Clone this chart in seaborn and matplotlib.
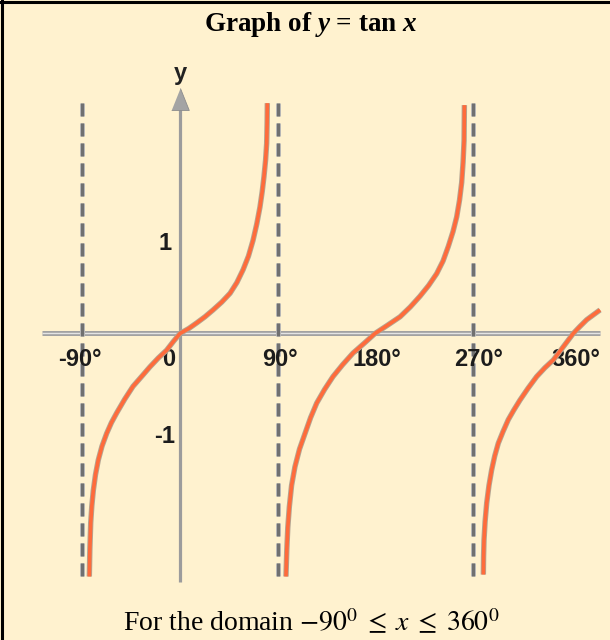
import matplotlib
matplotlib.use("Agg")
import matplotlib.pyplot as plt
from matplotlib.lines import Line2D
import pandas as pd
import seaborn as sns

# points (x in degrees)
branch1_x = [-83.7, -83.2, -82.4, -81.4, -80.0, -78.0, -75.4, -72.0, -67.7, -63.3,
             -58.4, -51.0, -43.4, -35.5, -27.7, -20.0, -12.3, -6.0, 0.0,
             8.0, 15.7, 23.0, 30.5, 38.5, 46.2, 52.5, 58.2, 63.2, 67.4, 70.9,
             73.8, 75.9, 77.5, 79.0, 80.0, 80.4, 80.6]
branch1_y = [-2.48, -2.20, -1.93, -1.76, -1.60, -1.44, -1.29, -1.15, -1.02, -0.91,
             -0.81, -0.67, -0.54, -0.44, -0.34, -0.25, -0.17, -0.08, 0.0,
             0.05, 0.11, 0.17, 0.24, 0.32, 0.41, 0.52, 0.65, 0.79, 0.95, 1.12,
             1.29, 1.45, 1.60, 1.77, 1.94, 2.15, 2.35]
branch2_x = [97.8, 98.6, 99.5, 100.9, 103.0, 106.1, 110.3, 115.4, 120.5, 126.2,
             133.5, 141.2, 150.0, 159.7, 170.0, 180.0, 191.0, 203.1, 212.5, 221.5,
             229.5, 236.9, 242.8, 247.7, 252.0, 255.4, 258.0, 260.0, 261.3, 262.2,
             262.5]
branch2_y = [-2.48, -2.20, -1.98, -1.77, -1.55, -1.36, -1.18, -1.02, -0.86, -0.71,
             -0.57, -0.44, -0.32, -0.20, -0.10, 0.0, 0.08, 0.17, 0.27, 0.38,
             0.49, 0.61, 0.74, 0.89, 1.04, 1.19, 1.36, 1.54, 1.75, 1.97,
             2.33]
branch3_x = [280.0, 280.2, 280.6, 281.6, 283.1, 285.2, 287.7, 290.5, 293.8, 298.2,
             303.0, 308.2, 313.8, 321.2, 329.2, 336.8, 344.6, 353.5, 363.0, 369.0,
             375.4, 381.5, 387.7]
branch3_y = [-2.46, -2.28, -2.11, -1.92, -1.73, -1.55, -1.39, -1.25, -1.12, -1.00,
             -0.88, -0.78, -0.68, -0.56, -0.44, -0.35, -0.27, -0.14, 0.0, 0.07,
             0.14, 0.19, 0.24]

asymptotes = [-90, 90, 270]
xtick_values = [-90, 0, 90, 180, 270, 360]
xtick_labels = ["-90°", "0", "90°", "180°", "270°", "360°"]
ytick_values = [1, -1]
ytick_labels = ["1", "-1"]

title = r"Graph of $y$ = tan $x$"
caption = r"For the domain $-90^0\;\leq\;x\;\leq\;360^0$"

bg = "#fff2cf"
curve_col = "#ff6b3b"

plt.rcParams["lines.scale_dashes"] = False
plt.rcParams["mathtext.it"] = "Liberation Serif:italic:bold"
plt.rcParams["mathtext.rm"] = "Liberation Serif:bold"

df = pd.concat([
    pd.DataFrame({"x": branch1_x, "y": branch1_y, "branch": 1}),
    pd.DataFrame({"x": branch2_x, "y": branch2_y, "branch": 2}),
    pd.DataFrame({"x": branch3_x, "y": branch3_y, "branch": 3}),
])

fig = plt.figure(figsize=(6.1, 6.4), dpi=100, facecolor=bg)
ax = fig.add_axes([0, 0, 1, 1])
ax.set_facecolor(bg)

# x axis (grey bar with a light centre)
ax.hlines(0, -127.4, 387.7, color="#a2a2a2", lw=3.6, zorder=1)
ax.hlines(0, -127.4, 387.7, color="#e4e4e4", lw=1.0, zorder=1)

# y axis with arrow head
ax.vlines(0, -2.54, 2.3, color="#9c9c9c", lw=2.3, zorder=1)
ax.plot([0], [2.394], marker=[(-0.4, -0.5), (0.4, -0.5), (0, 0.5)],
        ms=15.8, color="#a4a4a4", mec="#8c8c8c", mew=0.6, zorder=1)
ax.text(0, 2.65, "y", ha="center", va="center", fontsize=17,
        fontweight="bold", family="Liberation Sans", color="#222222")

# asymptotes
for a in asymptotes:
    ax.vlines(a, -2.47, 2.35, color="#b9b9b9", lw=3.6,
              linestyles=(0, (9.4, 5.0)), zorder=2)
    ax.vlines(a, -2.47, 2.35, color="#707070", lw=2.2,
              linestyles=(0, (9.4, 5.0)), zorder=2)

# tick labels
nudge = [-2.0, -10.2, 1.8, 1.8, 6.0, 5.5]
for v, lab, dx in zip(xtick_values, xtick_labels, nudge):
    ax.text(v + dx, -0.27, lab, ha="center", va="center", fontsize=17,
            fontweight="bold", family="Liberation Sans", color="#1c1c1c",
            zorder=3)
yoff = [-0.08, -0.05]
for v, lab, dy in zip(ytick_values, ytick_labels, yoff):
    ax.text(-14.0, v + dy, lab, ha="center", va="center", fontsize=17,
            fontweight="bold", family="Liberation Sans", color="#1c1c1c",
            zorder=3)

# the curve: grey halo underneath, orange on top
sns.lineplot(data=df, x="x", y="y", units="branch", estimator=None, sort=False,
             color="#b5a592", lw=3.9, ax=ax, zorder=4, legend=False,
             solid_joinstyle="round", solid_capstyle="butt")
sns.lineplot(data=df, x="x", y="y", units="branch", estimator=None, sort=False,
             color=curve_col, lw=2.6, ax=ax, zorder=5, legend=False,
             solid_joinstyle="round", solid_capstyle="butt")
ax.set_xlim(-166.15, 396.9)
ax.set_ylim(-3.128, 3.403)
ax.axis("off")

fig.text(0.51, 0.9516, title, ha="center", va="baseline", fontsize=19.5,
         fontweight="bold", family="Liberation Serif", math_fontfamily="custom")
fig.text(0.51, 0.0141, caption, ha="center", va="baseline", fontsize=20,
         family="Liberation Serif", math_fontfamily="stix")

# black frame on the left and top
fig.add_artist(Line2D([1.5 / 610, 1.5 / 610], [0, 1], transform=fig.transFigure,
                      color="black", lw=2.2))
fig.add_artist(Line2D([0, 1], [1 - 1.5 / 640, 1 - 1.5 / 640],
                      transform=fig.transFigure, color="black", lw=2.2))

fig.savefig("out.png", dpi=100, facecolor=bg)
